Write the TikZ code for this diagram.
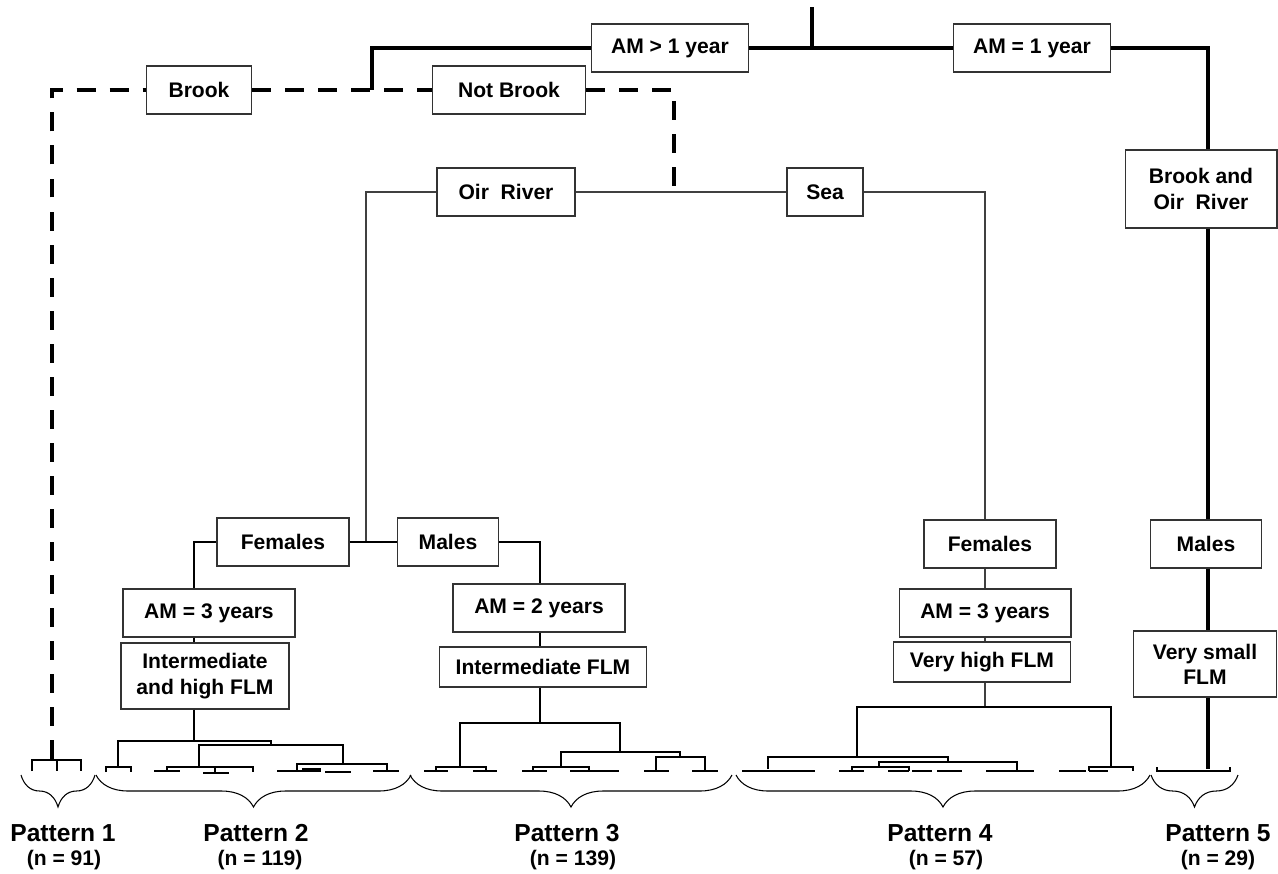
\documentclass[tikz,border=0pt]{standalone}
\usepackage{fontspec}
\setmainfont{Liberation Sans}
\usepackage{tikz}
\usetikzlibrary{decorations.pathreplacing, calc}

\tikzset{
  box/.style={draw=black!80, line width=0.6pt, fill=white, inner sep=0pt, align=center,
    font=\fontsize{12}{14.4}\selectfont\bfseries},
  mainline/.style={line width=2pt},
  brookline/.style={line width=2.8pt, dash pattern=on 10.8pt off 8pt},
  siteline/.style={line width=0.85pt, black!75},
  dendro/.style={line width=0.6pt},
  patbrace/.style={decorate, decoration={brace, mirror, amplitude=0.64cm}, line width=0.6pt},
  patlab/.style={anchor=base, font=\fontsize{14}{16}\selectfont\bfseries},
  nlab/.style={anchor=base, font=\fontsize{12}{14}\selectfont\bfseries},
}

\begin{document}
\begin{tikzpicture}[x=0.02cm, y=-0.02cm]
\useasboundingbox (0,0) rectangle (1278,873);

% decision boxes
\node[box, minimum width=3.14cm, minimum height=0.96cm] (amgt) at (670,48) {AM > 1 year};
\node[box, minimum width=3.14cm, minimum height=0.96cm] (ameq) at (1032,48) {AM = 1 year};
\node[box, minimum width=2.1cm, minimum height=0.96cm] (brook) at (199,90) {Brook};
\node[box, minimum width=3.06cm, minimum height=0.96cm] (notbrook) at (509,90) {Not Brook};
\node[box, minimum width=2.76cm, minimum height=0.96cm] (oir) at (506,192) {Oir\ \ River};
\node[box, minimum width=1.52cm, minimum height=0.96cm] (sea) at (825,192) {Sea};
\node[box, minimum width=3.04cm, minimum height=1.56cm] (bor) at (1201,189) {Brook and\\Oir\ \ River};
\node[box, minimum width=2.64cm, minimum height=0.96cm] (femL) at (283,542) {Females};
\node[box, minimum width=2.02cm, minimum height=0.96cm] (malL) at (448,542) {Males};
\node[box, minimum width=3.44cm, minimum height=0.96cm] (am3L) at (209,613) {AM = 3 years};
\node[box, minimum width=3.36cm, minimum height=1.32cm] (ihflm) at (205,676) {Intermediate\\and high FLM};
\node[box, minimum width=3.44cm, minimum height=0.96cm] (am2) at (539,608) {AM = 2 years};
\node[box, minimum width=4.14cm, minimum height=0.8cm] (iflm) at (543,667) {Intermediate FLM};
\node[box, minimum width=2.64cm, minimum height=0.96cm] (femR) at (990,544) {Females};
\node[box, minimum width=3.44cm, minimum height=0.96cm] (am3R) at (985,613) {AM = 3 years};
\node[box, minimum width=3.54cm, minimum height=0.8cm] (vhflm) at (982,662) {Very high FLM};
\node[box, minimum width=2.22cm, minimum height=0.96cm] (malR) at (1206,544) {Males};
\node[box, minimum width=2.86cm, minimum height=1.32cm] (vsflm) at (1205,664) {Very small\\FLM};

% junctions
\coordinate (rootT) at (812,7);
\coordinate (rootJ) at (812,48);
\coordinate (brJ) at (372,90);
\coordinate (rC) at (1208,48);
\coordinate (p1top) at (52,759);
\coordinate (oirJ) at (674,192);
\coordinate (seaJ) at (985,192);
\coordinate (sexJ) at (366,542);
\coordinate (fJ) at (194,542);
\coordinate (mJ) at (540,542);
\coordinate (d2) at (194,741);
\coordinate (d3) at (540,723);
\coordinate (d4) at (985,707);
\coordinate (d5) at (1208,769);

% age at maturity
\draw[mainline] (rootT) -- (rootJ);
\draw[mainline] (amgt.east) -- (ameq.west);
\draw[mainline] (amgt.west) -| (brJ);
\draw[mainline] (ameq.east) -- (rC) -- (rC |- bor.north);
\draw[mainline] (rC |- bor.south) -- (rC |- malR.north);
\draw[mainline] (rC |- malR.south) -- (rC |- vsflm.north);
\draw[mainline] (rC |- vsflm.south) -- (d5);

% brook / not brook
\draw[brookline] (p1top) |- (brook.west);
\draw[brookline] (brook.east) -- (notbrook.west);
\draw[brookline] (notbrook.east) -| (oirJ);

% river / sea
\draw[siteline] (oir.east) -- (sea.west);
\draw[siteline] (oir.west) -| (sexJ);
\draw[siteline] (sea.east) -- (seaJ) -- (seaJ |- femR.north);
\draw[siteline] (seaJ |- femR.south) -- (seaJ |- am3R.north);
\draw[siteline] (seaJ |- am3R.south) -- (seaJ |- vhflm.north);
\draw[siteline] (seaJ |- vhflm.south) -- (d4);

% sexes in the river
\draw[dendro] (femL.east) -- (malL.west);
\draw[dendro] (femL.west) -- (fJ) -- (fJ |- am3L.north);
\draw[dendro] (fJ |- am3L.south) -- (fJ |- ihflm.north);
\draw[dendro] (fJ |- ihflm.south) -- (d2);
\draw[dendro] (malL.east) -- (mJ) -- (mJ |- am2.north);
\draw[dendro] (mJ |- am2.south) -- (mJ |- iflm.north);
\draw[dendro] (mJ |- iflm.south) -- (d3);

% pattern 1
\draw[dendro] (32,771) |- (81,760) -- (81,771) (57,760) -- (57,771);
% pattern 2
\draw[dendro] (118,767) |- (271,741) -- (271,745);
\draw[dendro] (199,767) |- (343,745) -- (343,764);
\draw[dendro] (106,772) |- (131,767) -- (131,772);
\draw[dendro] (167,771) |- (253,767) -- (253,772) (215,767) -- (215,773);
\draw[dendro] (297,770) |- (387,764) -- (387,770);
\foreach \a/\b/\y in {154/180/771, 203/229/773, 277/321/771, 302/321/769, 325/351/772, 373/399/771}
  \draw[dendro] (\a,\y) -- (\b,\y);
% pattern 3
\draw[dendro] (460,767) |- (620,723) -- (620,752);
\draw[dendro] (561,767) |- (680,752) -- (680,757);
\draw[dendro] (656,771) |- (705,757) -- (705,771);
\draw[dendro] (436,771) |- (486,767) -- (486,771);
\draw[dendro] (533,771) |- (589,767) -- (589,771);
\foreach \a/\b in {424/448, 473/497, 522/547, 570/597, 595/619, 644/669, 692/718}
  \draw[dendro] (\a,771) -- (\b,771);
% pattern 4
\draw[dendro] (857,757) |- (1111,707) -- (1111,767);
\draw[dendro] (768,769) |- (948,757) -- (948,762);
\draw[dendro] (879,767) |- (1017,762) -- (1017,771);
\draw[dendro] (852,771) |- (909,767) -- (909,771);
\draw[dendro] (1089,771) |- (1133,767) -- (1133,771);
\foreach \a/\b in {742/815, 839/864, 888/909, 912/932, 937/962, 986/1034, 1059/1086, 1089/1108}
  \draw[dendro] (\a,771) -- (\b,771);
% pattern 5
\draw[dendro] (1157,767) -- (1157,771) -- (1230,771) -- (1230,767);

% braces
\foreach \a/\b in {21/95, 96/411, 410/732, 736/1150, 1151/1238}
  \draw[patbrace] (\a,775) -- (\b,775);

% pattern labels
\foreach \i/\x/\xx/\n in {1/63/64/91, 2/256/260/119, 3/567/573/139, 4/940/946/57, 5/1218/1218/29} {
  \node[patlab] (pat\i) at (\x,841) {Pattern \i};
  \node[nlab] (n\i) at (\xx,865) {(n = \n)};
}
\end{tikzpicture}
\end{document}
